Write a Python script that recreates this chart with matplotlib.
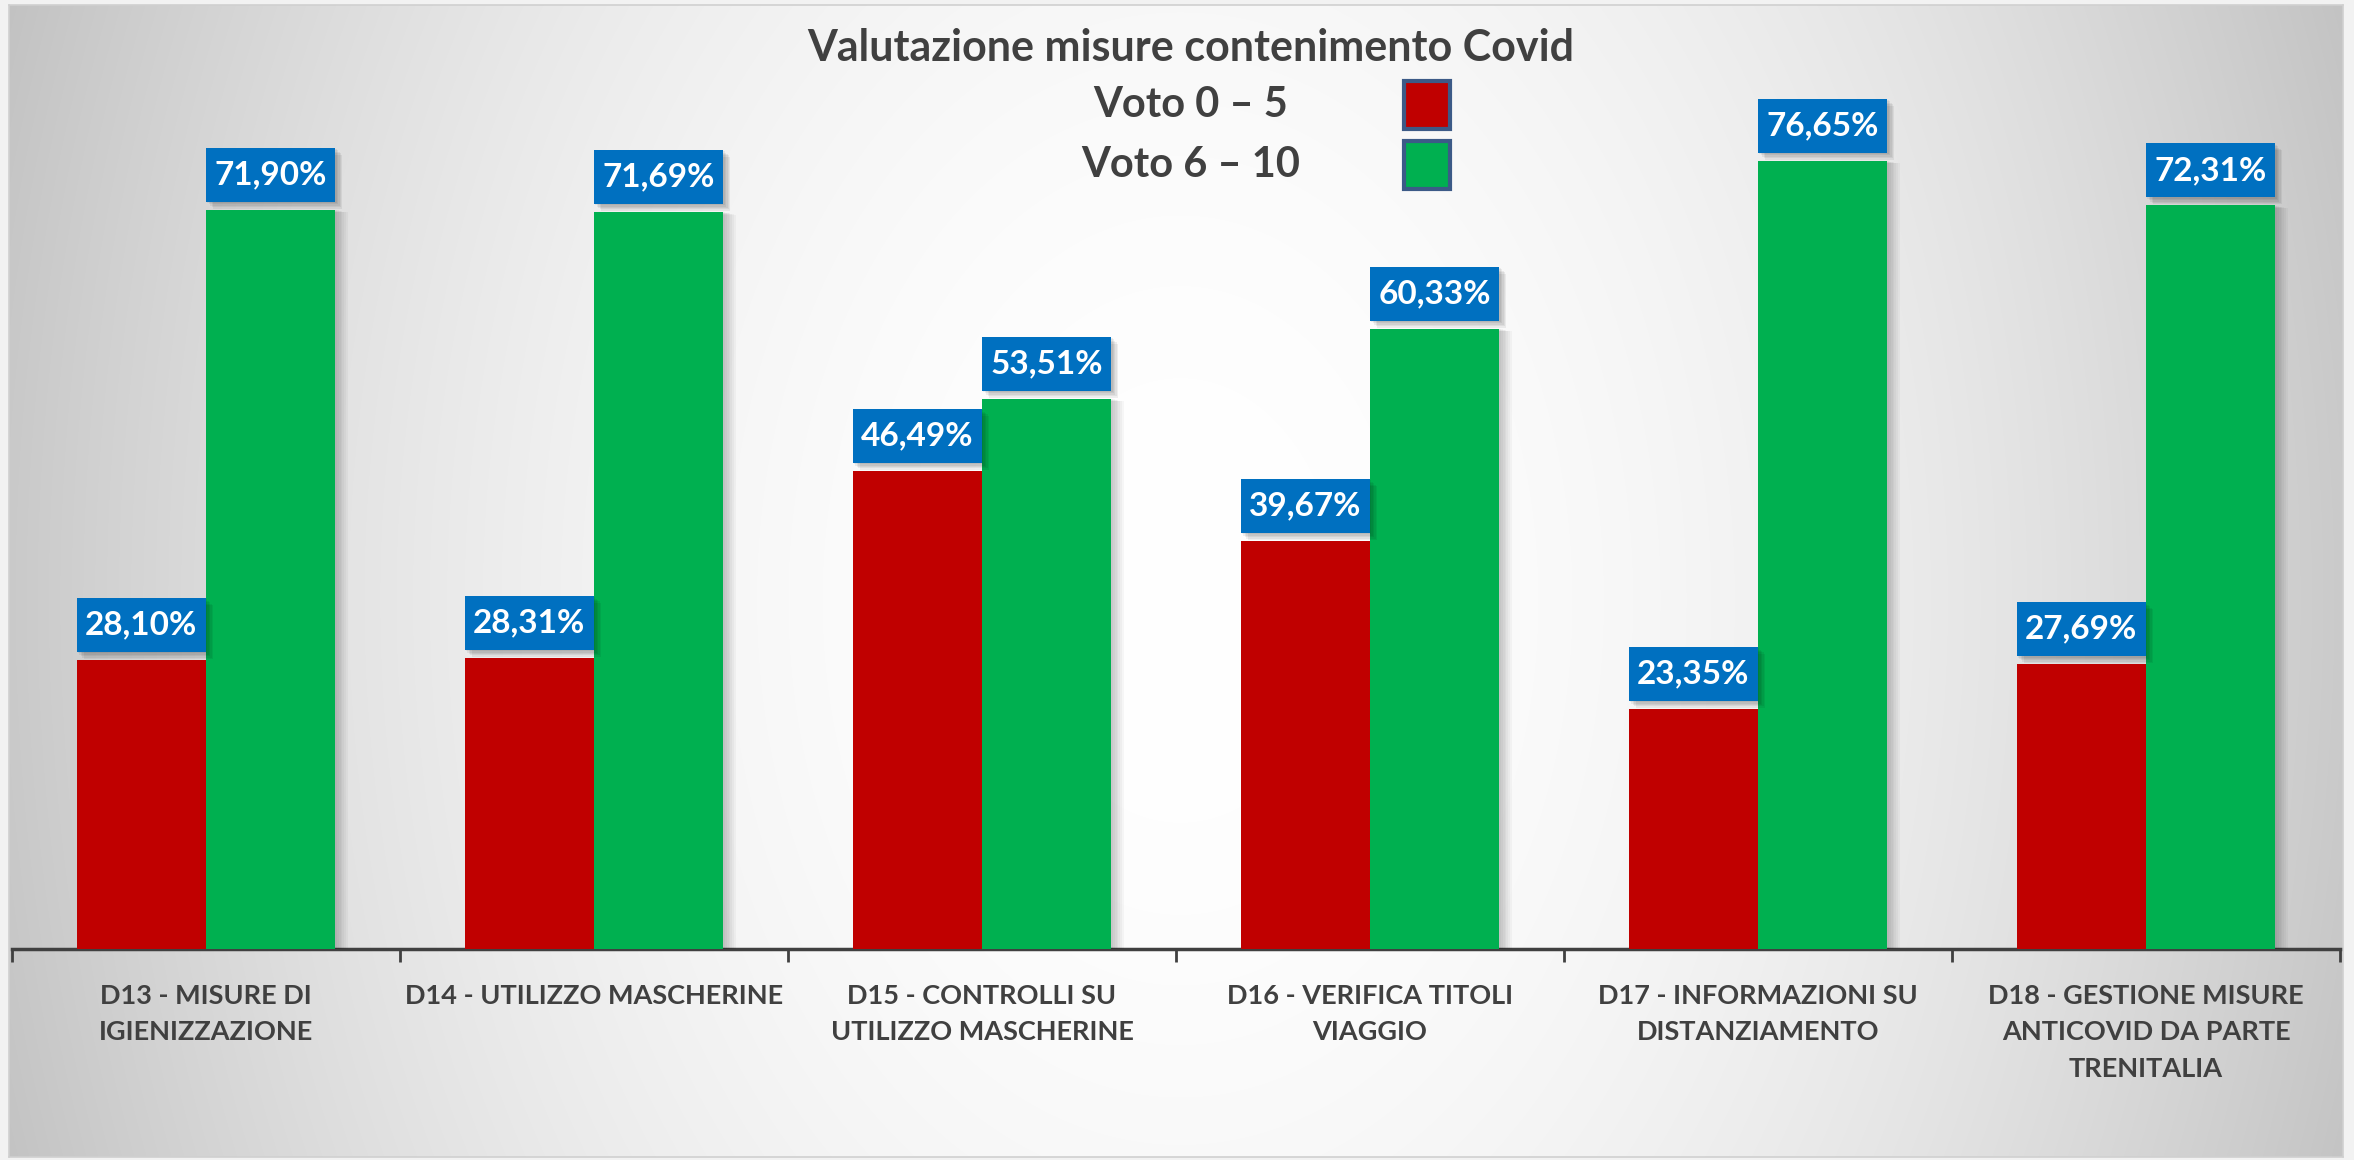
import numpy as np
import matplotlib
matplotlib.use("Agg")
import matplotlib.pyplot as plt
from matplotlib.patches import Rectangle
import matplotlib.patheffects as pe

# ---------------- data ----------------
categories = [
    "D13 - MISURE DI\nIGIENIZZAZIONE",
    "D14 - UTILIZZO MASCHERINE",
    "D15 - CONTROLLI SU\nUTILIZZO MASCHERINE",
    "D16 - VERIFICA TITOLI\nVIAGGIO",
    "D17 - INFORMAZIONI SU\nDISTANZIAMENTO",
    "D18 - GESTIONE MISURE\nANTICOVID DA PARTE\nTRENITALIA",
]
voto_0_5 = [28.10, 28.31, 46.49, 39.67, 23.35, 27.69]
voto_6_10 = [71.90, 71.69, 53.51, 60.33, 76.65, 72.31]
series_names = ["Voto 0 \u2013 5", "Voto 6 \u2013 10"]
title = "Valutazione misure contenimento Covid"

RED = "#C00000"
GREEN = "#00B050"
BLUE = "#0070C0"
TXT = "#404040"
FONT = ["Lato", "DejaVu Sans"]

W, H = 2354, 1160
DPI = 100
fig = plt.figure(figsize=(W / DPI, H / DPI), dpi=DPI, facecolor="#f2f2f2")

# ---------------- background panel with radial gradient ----------------
px0, py0, px1, py1 = 9, 5, 2343, 1157
bg = fig.add_axes([px0 / W, 1 - py1 / H, (px1 - px0) / W, (py1 - py0) / H], zorder=0)
xx, yy = np.meshgrid(np.arange(px0, px1), np.arange(py0, py1))
cx, cy, rx, ry = 1180, 600, 1260, 1750
t2 = ((xx - cx) / rx) ** 2 + ((yy - cy) / ry) ** 2
f = np.clip(t2, 0, 1)
g = (255 - 62 * f) / 255.0
img = np.dstack([g, g, g])
bg.imshow(img, aspect="auto", interpolation="bilinear", extent=[0, 1, 0, 1])
bg.set_xlim(0, 1)
bg.set_ylim(0, 1)
bg.set_xticks([])
bg.set_yticks([])
for s in bg.spines.values():
    s.set_edgecolor("#d0d0d0")
    s.set_linewidth(1.2)

# ---------------- main axes ----------------
ax_left, ax_right = 12, 2340
ax_top, ax_bottom = 8, 949
ax = fig.add_axes([ax_left / W, 1 - ax_bottom / H, (ax_right - ax_left) / W, (ax_bottom - ax_top) / H], zorder=1)
ax.set_facecolor("none")
YMAX = 91.5
n = len(categories)
ax.set_xlim(-0.5, n - 0.5)
ax.set_ylim(0, YMAX)
ppu = (ax_bottom - ax_top) / YMAX  # pixels per data unit

x = np.arange(n)
bw = 1 / 3


def shadow_effects(dx, dy, steps=6, alpha=0.035):
    effs = []
    for k in range(steps, 0, -1):
        effs.append(pe.withSimplePatchShadow(offset=(dx * k / steps, dy * k / steps),
                                             shadow_rgbFace="black", alpha=alpha))
    effs.append(pe.Normal())
    return effs


bars_r = ax.bar(x - bw / 2, voto_0_5, width=bw, color=RED, zorder=3)
bars_g = ax.bar(x + bw / 2, voto_6_10, width=bw, color=GREEN, zorder=3)
for b in list(bars_r) + list(bars_g):
    b.set_path_effects(shadow_effects(9, -2, steps=7, alpha=0.03))

# data labels
gap_px, box_h_px = 8, 54
for xs, vals in ((x - bw / 2, voto_0_5), (x + bw / 2, voto_6_10)):
    for xi, v in zip(xs, vals):
        y0 = v + gap_px / ppu
        h = box_h_px / ppu
        r = Rectangle((xi - bw / 2, y0), bw, h, facecolor=BLUE, edgecolor="none",
                      zorder=4, clip_on=False)
        r.set_path_effects(shadow_effects(5, -5, steps=5, alpha=0.06))
        ax.add_patch(r)
        ax.text(xi, y0 + h / 2, f"{v:.2f}".replace(".", ",") + "%", color="white",
                fontsize=24, fontweight="bold", family=FONT, ha="center", va="center",
                zorder=5)

# axis styling
for side in ("left", "right", "top"):
    ax.spines[side].set_visible(False)
ax.spines["bottom"].set_color(TXT)
ax.spines["bottom"].set_linewidth(2.5)
ax.set_yticks([])
ax.set_xticks(np.arange(n + 1) - 0.5)
ax.set_xticklabels([])
ax.tick_params(axis="x", which="major", direction="out", length=9, width=2, color=TXT)
ax.set_xticks(x, minor=True)
ax.set_xticklabels(categories, minor=True, fontsize=19.5, fontweight="bold", color=TXT,
                   family=FONT, linespacing=1.62)
ax.tick_params(axis="x", which="minor", length=0, pad=25)

# ---------------- title & legend ----------------
fig.text(1191 / W, 1 - 48 / H, title, ha="center", va="center", fontsize=31,
         fontweight="bold", color=TXT, family=FONT)
leg_y = [105, 165]
leg_colors = [RED, GREEN]
for name, yc, col in zip(series_names, leg_y, leg_colors):
    fig.text(1191 / W, 1 - yc / H, name, ha="center", va="center", fontsize=30,
             fontweight="bold", color=TXT, family=FONT)
    sq = Rectangle(((1427 - 23) / W, 1 - (yc + 24) / H), 46 / W, 48 / H,
                   transform=fig.transFigure, facecolor=col, edgecolor="#3C5A87",
                   linewidth=3, zorder=6)
    fig.patches.append(sq)

fig.savefig("out.png", dpi=DPI, facecolor=fig.get_facecolor())
